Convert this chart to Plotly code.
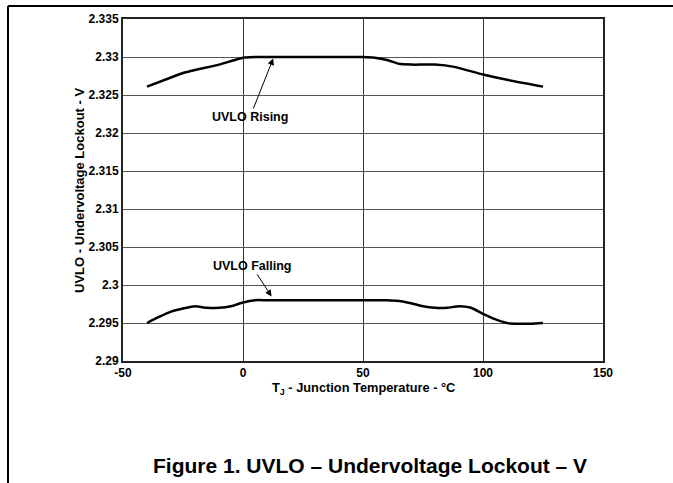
import plotly.graph_objects as go

# Data
rising_temp = [-40, -30, -25, -20, -10, 0, 5, 10, 20, 30, 40, 50, 55, 60, 65, 70, 75, 80, 88, 100, 110, 125]
rising_v = [2.3261, 2.3273, 2.3279, 2.3283, 2.3290, 2.3299, 2.3300, 2.3300, 2.3300, 2.3300, 2.3300,
            2.3300, 2.3299, 2.3296, 2.3291, 2.3290, 2.3290, 2.3290, 2.3287, 2.3277, 2.3270, 2.3261]

falling_temp = [-40, -35, -30, -25, -20, -15, -10, -5, 0, 5, 10, 20, 30, 40, 50, 60, 65, 70, 75, 80,
                85, 90, 95, 100, 105, 110, 115, 120, 125]
falling_v = [2.2950, 2.2958, 2.2965, 2.2969, 2.2972, 2.2970, 2.2970, 2.2972, 2.2977, 2.2980, 2.2980,
             2.2980, 2.2980, 2.2980, 2.2980, 2.2980, 2.2979, 2.2976, 2.2972, 2.2970, 2.2970, 2.2972,
             2.2970, 2.2962, 2.2955, 2.2950, 2.2949, 2.2949, 2.2950]

x_ticks = [-50, 0, 50, 100, 150]
y_ticks = [2.29, 2.295, 2.3, 2.305, 2.31, 2.315, 2.32, 2.325, 2.33, 2.335]
y_tick_labels = ["2.29", "2.295", "2.3", "2.305", "2.31", "2.315", "2.32", "2.325", "2.33", "2.335"]

FONT = "Liberation Sans, Arial, sans-serif"

fig = go.Figure()
fig.add_trace(go.Scatter(x=rising_temp, y=rising_v, mode="lines",
                         line=dict(color="black", width=2.5, shape="spline", smoothing=0.6),
                         showlegend=False, hoverinfo="skip"))
fig.add_trace(go.Scatter(x=falling_temp, y=falling_v, mode="lines",
                         line=dict(color="black", width=2.5, shape="spline", smoothing=0.6),
                         showlegend=False, hoverinfo="skip"))

fig.update_xaxes(range=[-50, 150], tickvals=x_ticks, ticktext=[str(v) for v in x_ticks],
                 showgrid=True, gridcolor="#333", gridwidth=1,
                 showline=True, linecolor="#222", linewidth=2, mirror=True,
                 zeroline=False, ticks="", ticklen=0,
                 tickfont=dict(family=FONT, size=12, color="black", weight="bold"))
fig.update_yaxes(range=[2.29, 2.335], tickvals=y_ticks, ticktext=y_tick_labels,
                 showgrid=True, gridcolor="#555", gridwidth=1,
                 showline=True, linecolor="#222", linewidth=2, mirror=True,
                 zeroline=False, ticks="", ticklen=0,
                 tickfont=dict(family=FONT, size=12, color="black", weight="bold"))

annotations = [
    dict(x=12.6, y=2.3298, ax=2.9, ay=2.3221, xref="x", yref="y", axref="x", ayref="y",
         text="<b>UVLO Rising</b>", showarrow=True, arrowhead=2, arrowsize=1.3, arrowwidth=1,
         arrowcolor="black", font=dict(family=FONT, size=12.5, color="black")),
    dict(x=11.9, y=2.2985, ax=3.6, ay=2.30252, xref="x", yref="y", axref="x", ayref="y",
         text="<b>UVLO Falling</b>", showarrow=True, arrowhead=2, arrowsize=1.3, arrowwidth=1,
         arrowcolor="black", font=dict(family=FONT, size=12.5, color="black")),
    dict(x=0.5, y=-0.081, xref="paper", yref="paper", xanchor="center", yanchor="middle",
         text="<b>T<sub>J</sub> - Junction Temperature - °C</b>", showarrow=False,
         font=dict(family=FONT, size=12.8, color="black")),
    dict(x=-0.0917, y=0.5, xref="paper", yref="paper", xanchor="center", yanchor="middle",
         text="<b>UVLO - Undervoltage Lockout - V</b>", textangle=-90, showarrow=False,
         font=dict(family=FONT, size=13, color="black")),
    dict(x=0.515, y=-0.307, xref="paper", yref="paper", xanchor="center", yanchor="middle",
         text="<b>Figure 1. UVLO – Undervoltage Lockout – V</b>", showarrow=False,
         font=dict(family=FONT, size=21, color="black")),
]

shapes = [
    dict(type="line", xref="paper", yref="paper", x0=-0.2396, x1=1.15, y0=1.0377, y1=1.0377,
         line=dict(color="black", width=2)),
    dict(type="line", xref="paper", yref="paper", x0=-0.2396, x1=-0.2396, y0=1.0377, y1=-0.36,
         line=dict(color="black", width=2)),
]

fig.update_layout(width=673, height=483, margin=dict(l=123, r=70, t=16, b=122),
                  paper_bgcolor="white", plot_bgcolor="white",
                  annotations=annotations, shapes=shapes, showlegend=False)

fig.write_html("out.html", config={"displayModeBar": False},
               post_script="document.body.style.margin='0';")
